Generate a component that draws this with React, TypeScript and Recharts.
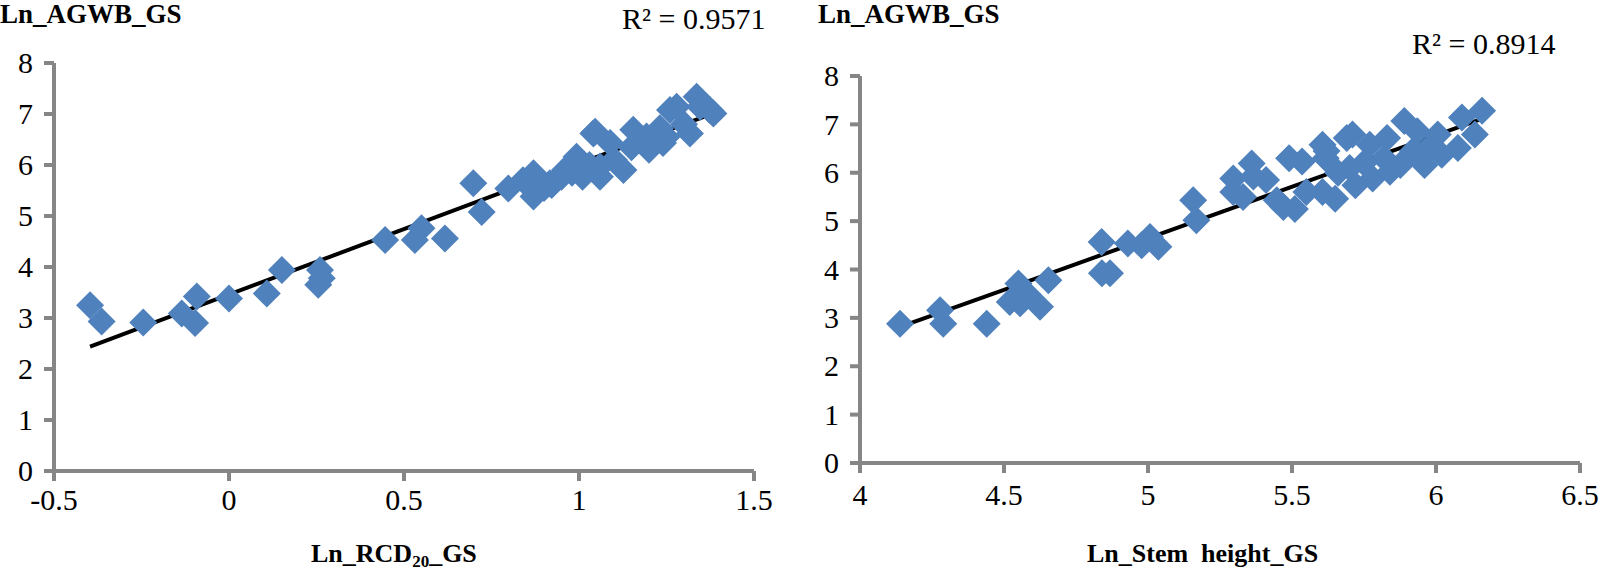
import React from "react";
import {
  ScatterChart,
  Scatter,
  XAxis,
  YAxis,
  ReferenceLine,
} from "recharts";

// Ln_RCD20_GS vs Ln_AGWB_GS
const rcdX = [
  -0.397, -0.364, -0.245, -0.135, -0.092, -0.097, 0.0, 0.108, 0.151, 0.26, 0.255, 0.265,
  0.446, 0.531, 0.55, 0.617, 0.698, 0.722, 0.798, 0.84, 0.87, 0.87, 0.9, 0.917, 0.922,
  0.95, 0.96, 0.98, 0.993, 1.0, 1.01, 1.03, 1.041, 1.046, 1.06, 1.06, 1.089, 1.1,
  1.127, 1.15, 1.155, 1.193, 1.2, 1.231, 1.24, 1.25, 1.26, 1.279, 1.3, 1.317, 1.336,
  1.346, 1.374, 1.384,
];
const rcdY = [
  3.25, 2.93, 2.91, 3.09, 3.42, 2.9, 3.38, 3.48, 3.94, 3.94, 3.65, 3.78,
  4.53, 4.53, 4.76, 4.56, 5.64, 5.08, 5.54, 5.7, 5.84, 5.38, 5.55, 5.64, 5.61,
  5.77, 5.9, 5.85, 6.16, 6.05, 5.77, 6.0, 6.62, 6.65, 5.97, 5.77, 6.43, 6.1,
  5.9, 6.35, 6.69, 6.56, 6.3, 6.72, 6.43, 6.55, 7.08, 7.14, 6.8, 6.62, 7.34,
  7.14, 7.08, 7.01,
];

// Ln_Stem height_GS vs Ln_AGWB_GS
const stemX = [
  4.139, 4.278, 4.289, 4.44, 4.52, 4.55, 4.556, 4.58, 4.625, 4.654, 4.84, 4.868,
  4.839, 4.93, 4.978, 5.007, 5.036, 5.157, 5.168, 5.296, 5.296, 5.33, 5.36, 5.366,
  5.41, 5.447, 5.47, 5.49, 5.51, 5.535, 5.55, 5.606, 5.617, 5.606, 5.62, 5.65, 5.66,
  5.69, 5.7, 5.71, 5.72, 5.75, 5.77, 5.78, 5.82, 5.83, 5.84, 5.876, 5.89, 5.92,
  5.935, 5.96, 5.98, 6.006, 6.02, 6.076, 6.09, 6.135, 6.16,
];
const stemY = [
  2.88, 3.16, 2.88, 2.88, 3.33, 3.71, 3.3, 3.5, 3.23, 3.78, 3.92, 3.92,
  4.57, 4.54, 4.5, 4.67, 4.47, 5.43, 5.02, 5.88, 5.6, 5.5, 6.19, 5.92,
  5.85, 5.43, 5.29, 6.3, 5.25, 6.23, 5.6, 6.58, 6.3, 5.6, 6.45, 5.46, 6.0,
  6.72, 6.1, 6.79, 5.74, 6.2, 6.58, 5.88, 6.3, 6.72, 6.02, 6.16, 7.07, 6.45,
  6.86, 6.16, 6.55, 6.79, 6.37, 6.51, 7.14, 6.79, 7.28,
];

// trend lines: slope, intercept, x range
const rcdFit = { slope: 2.567, intercept: 3.46, from: -0.397, to: 1.36 };
const stemFit = { slope: 2.129, intercept: -6.0, from: 4.139, to: 6.159 };

const yTicks = [0, 1, 2, 3, 4, 5, 6, 7, 8];
const rcdTicks = [-0.5, 0, 0.5, 1, 1.5];
const stemTicks = [4, 4.5, 5, 5.5, 6, 6.5];

const BLUE = "#4F81BD";
const AXIS = "#868686";
const FONT = "'Liberation Serif', 'Times New Roman', serif";
const TICK_FONT = 30;

function Diamond(props: any) {
  const { cx, cy } = props;
  const r = 14;
  return (
    <polygon
      points={`${cx},${cy - r} ${cx + r},${cy} ${cx},${cy + r} ${cx - r},${cy}`}
      fill={BLUE}
    />
  );
}

function XTick(props: any) {
  const { x, y, payload } = props;
  return (
    <text
      x={x}
      y={y}
      dy="0.75em"
      textAnchor="middle"
      fill="#000"
      style={{ fontFamily: FONT, fontSize: TICK_FONT }}
    >
      {payload.value}
    </text>
  );
}

function YTick(props: any) {
  const { x, y, payload } = props;
  return (
    <text
      x={x}
      y={y}
      dy="0.34em"
      textAnchor="end"
      fill="#000"
      style={{ fontFamily: FONT, fontSize: TICK_FONT }}
    >
      {payload.value}
    </text>
  );
}

const zip = (xs: number[], ys: number[]) => xs.map((x, i) => ({ x, y: ys[i] }));

const fitSegment = (f: { slope: number; intercept: number; from: number; to: number }) => [
  { x: f.from, y: f.slope * f.from + f.intercept },
  { x: f.to, y: f.slope * f.to + f.intercept },
];

interface PanelProps {
  xs: number[];
  ys: number[];
  fit: { slope: number; intercept: number; from: number; to: number };
  xDomain: [number, number];
  xTicks: number[];
  margin: { top: number; right: number; bottom: number; left: number };
  xTickMargin: number;
}

function Panel({ xs, ys, fit, xDomain, xTicks, margin, xTickMargin }: PanelProps) {
  return (
    <ScatterChart width={800} height={576} margin={margin} style={{ fontFamily: FONT }}>
      <XAxis
        type="number"
        dataKey="x"
        domain={xDomain}
        ticks={xTicks}
        allowDataOverflow
        height={40}
        stroke={AXIS}
        strokeWidth={4}
        axisLine={{ stroke: AXIS, strokeWidth: 4 }}
        tickLine={{ stroke: AXIS, strokeWidth: 4 }}
        tickSize={10}
        tickMargin={xTickMargin}
        tick={XTick}
        interval={0}
      />
      <YAxis
        type="number"
        dataKey="y"
        domain={[0, 8]}
        ticks={yTicks}
        width={40}
        stroke={AXIS}
        strokeWidth={4}
        axisLine={{ stroke: AXIS, strokeWidth: 4 }}
        tickLine={{ stroke: AXIS, strokeWidth: 4 }}
        tickSize={10}
        tickMargin={11}
        tick={YTick}
        interval={0}
      />
      <Scatter data={zip(xs, ys)} shape={Diamond} isAnimationActive={false} />
      <ReferenceLine
        segment={fitSegment(fit)}
        stroke="#000"
        strokeWidth={4}
        ifOverflow="visible"
      />
    </ScatterChart>
  );
}

const abs = (left: number, top: number): React.CSSProperties => ({
  position: "absolute",
  left,
  top,
  fontFamily: FONT,
  color: "#000",
  whiteSpace: "pre",
  lineHeight: 1,
});

export default function App() {
  return (
    <div style={{ position: "absolute", left: 0, top: 0, width: 1600, height: 576, background: "#fff", overflow: "hidden", fontFamily: FONT }}>
      <div style={{ position: "absolute", left: 0, top: 0 }}>
        <Panel
          xs={rcdX}
          ys={rcdY}
          fit={rcdFit}
          xDomain={[-0.5, 1.5]}
          xTicks={rcdTicks}
          margin={{ top: 63, right: 46, bottom: 65, left: 14 }}
          xTickMargin={6}
        />
      </div>
      <div style={{ position: "absolute", left: 800, top: 0 }}>
        <Panel
          xs={stemX}
          ys={stemY}
          fit={stemFit}
          xDomain={[4, 6.5]}
          xTicks={stemTicks}
          margin={{ top: 76, right: 20, bottom: 73, left: 20 }}
          xTickMargin={9}
        />
      </div>

      <div style={{ ...abs(0, 1), fontSize: 27, fontWeight: "bold" }}>Ln_AGWB_GS</div>
      <div style={{ ...abs(818, 1), fontSize: 27, fontWeight: "bold" }}>Ln_AGWB_GS</div>

      <div style={{ ...abs(622, 4), fontSize: 30 }}>R² = 0.9571</div>
      <div style={{ ...abs(1412, 29), fontSize: 30 }}>R² = 0.8914</div>

      <div style={{ ...abs(311, 541), fontSize: 26, fontWeight: "bold" }}>
        Ln_RCD<sub style={{ fontSize: 17, verticalAlign: "-5px" }}>20</sub>_GS
      </div>
      <div style={{ ...abs(1087, 541), fontSize: 26, fontWeight: "bold" }}>Ln_Stem  height_GS</div>
    </div>
  );
}
